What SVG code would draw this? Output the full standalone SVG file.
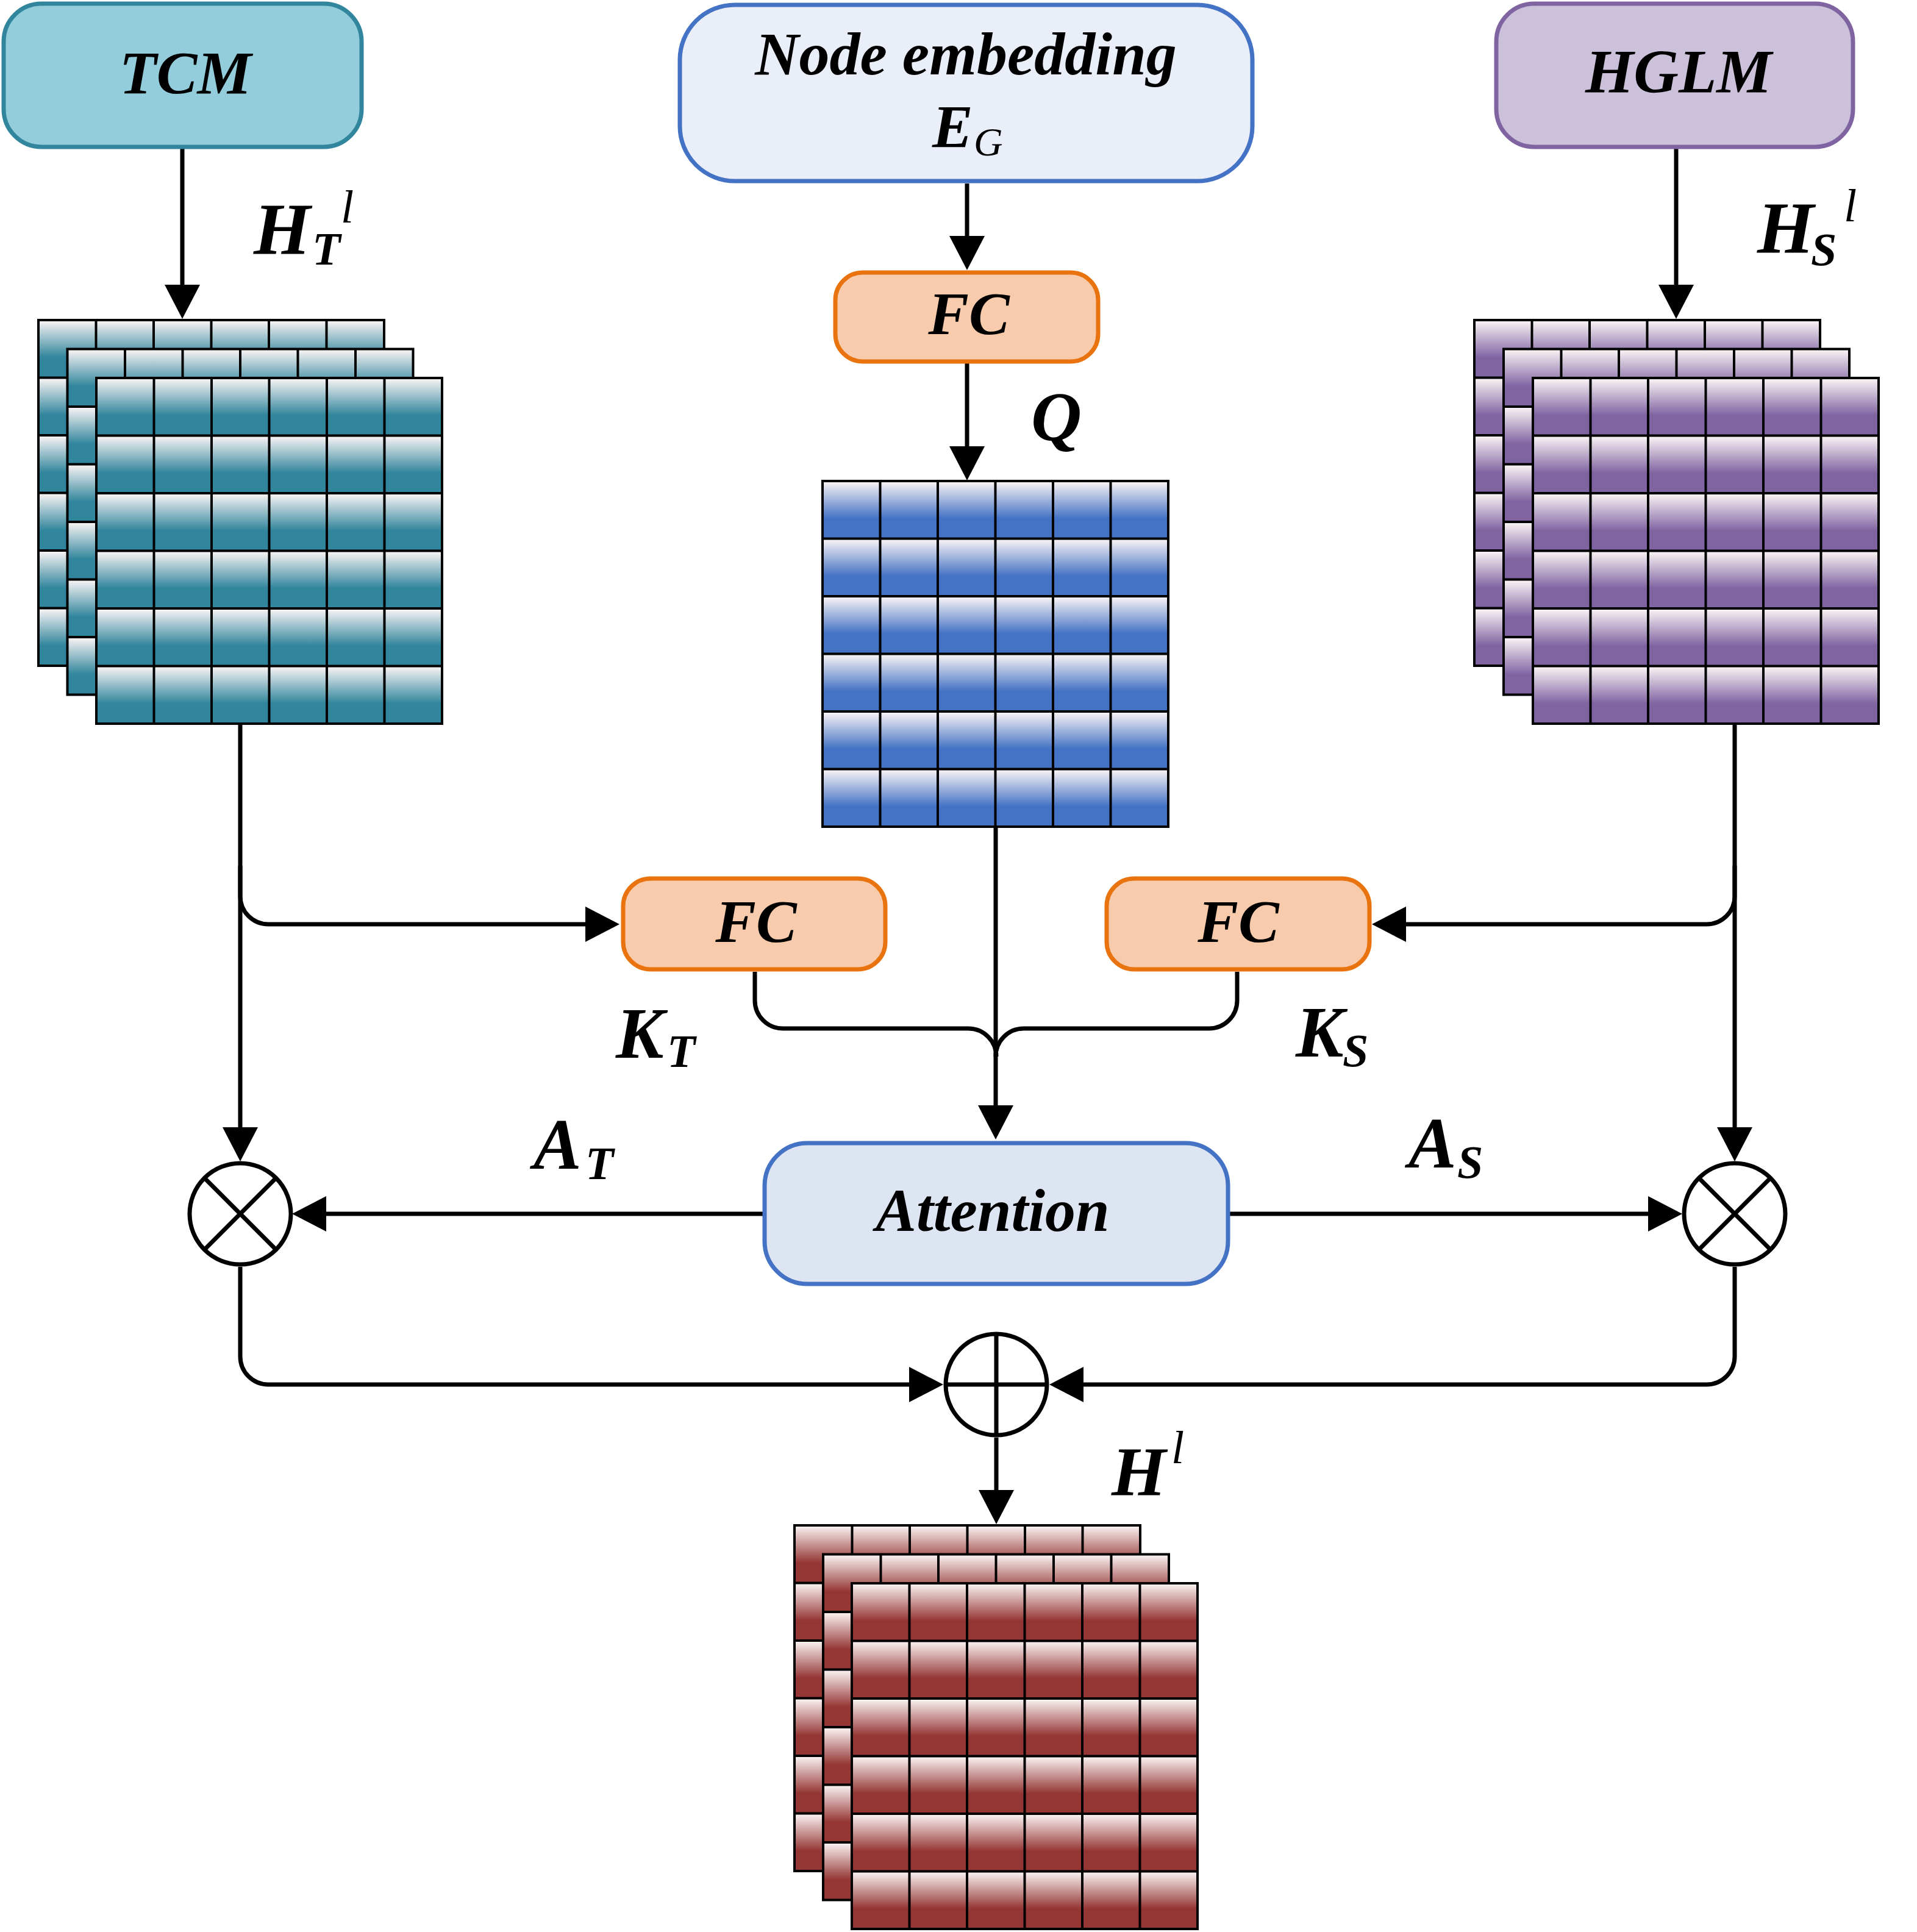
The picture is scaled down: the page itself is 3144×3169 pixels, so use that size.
<svg xmlns="http://www.w3.org/2000/svg" xmlns:xlink="http://www.w3.org/1999/xlink" width="3144" height="3169" viewBox="0 0 3144 3169">
<style>
.box{stroke-width:7}
.lbl{font-family:"Liberation Serif","Times New Roman",serif;font-style:italic;font-weight:bold;fill:#000}
.thin{font-weight:normal}
.con{fill:none;stroke:#000;stroke-width:7;marker-end:url(#arr)}
.plain{fill:none;stroke:#000;stroke-width:7}
.op{fill:#fff;stroke:#000;stroke-width:7}
</style>
<defs>
<marker id="arr" viewBox="0 0 56 58" refX="6" refY="29" markerWidth="56" markerHeight="58" markerUnits="userSpaceOnUse" orient="auto">
<path d="M0,0 L56,29 L0,58 Z" fill="#000"/>
</marker>
<linearGradient id="gT" x1="0" y1="0" x2="0" y2="1"><stop offset="0" stop-color="#FCF6F6"/><stop offset="0.65" stop-color="#31859C"/><stop offset="1" stop-color="#31859C"/></linearGradient>
<linearGradient id="gS" x1="0" y1="0" x2="0" y2="1"><stop offset="0" stop-color="#FCF6F6"/><stop offset="0.65" stop-color="#8064A2"/><stop offset="1" stop-color="#8064A2"/></linearGradient>
<linearGradient id="gQ" x1="0" y1="0" x2="0" y2="1"><stop offset="0" stop-color="#FCF6F6"/><stop offset="0.65" stop-color="#4472C4"/><stop offset="1" stop-color="#4472C4"/></linearGradient>
<linearGradient id="gH" x1="0" y1="0" x2="0" y2="1"><stop offset="0" stop-color="#FCF6F6"/><stop offset="0.65" stop-color="#943634"/><stop offset="1" stop-color="#943634"/></linearGradient>
<path id="glines" d="M0,0H567V567H0Z M94.5,0V567 M189,0V567 M283.5,0V567 M378,0V567 M472.5,0V567 M0,94.5H567 M0,189H567 M0,283.5H567 M0,378H567 M0,472.5H567" fill="none" stroke="#000" stroke-width="4" stroke-linejoin="miter"/>
<rect id="cT" width="94.5" height="94.5" fill="url(#gT)"/>
<rect id="cS" width="94.5" height="94.5" fill="url(#gS)"/>
<rect id="cQ" width="94.5" height="94.5" fill="url(#gQ)"/>
<rect id="cH" width="94.5" height="94.5" fill="url(#gH)"/>
<g id="rT"><use xlink:href="#cT"/><use xlink:href="#cT" x="94.5"/><use xlink:href="#cT" x="189"/><use xlink:href="#cT" x="283.5"/><use xlink:href="#cT" x="378"/><use xlink:href="#cT" x="472.5"/></g>
<g id="rS"><use xlink:href="#cS"/><use xlink:href="#cS" x="94.5"/><use xlink:href="#cS" x="189"/><use xlink:href="#cS" x="283.5"/><use xlink:href="#cS" x="378"/><use xlink:href="#cS" x="472.5"/></g>
<g id="rQ"><use xlink:href="#cQ"/><use xlink:href="#cQ" x="94.5"/><use xlink:href="#cQ" x="189"/><use xlink:href="#cQ" x="283.5"/><use xlink:href="#cQ" x="378"/><use xlink:href="#cQ" x="472.5"/></g>
<g id="rH"><use xlink:href="#cH"/><use xlink:href="#cH" x="94.5"/><use xlink:href="#cH" x="189"/><use xlink:href="#cH" x="283.5"/><use xlink:href="#cH" x="378"/><use xlink:href="#cH" x="472.5"/></g>
<g id="mT"><use xlink:href="#rT"/><use xlink:href="#rT" y="94.5"/><use xlink:href="#rT" y="189"/><use xlink:href="#rT" y="283.5"/><use xlink:href="#rT" y="378"/><use xlink:href="#rT" y="472.5"/><use xlink:href="#glines"/></g>
<g id="mS"><use xlink:href="#rS"/><use xlink:href="#rS" y="94.5"/><use xlink:href="#rS" y="189"/><use xlink:href="#rS" y="283.5"/><use xlink:href="#rS" y="378"/><use xlink:href="#rS" y="472.5"/><use xlink:href="#glines"/></g>
<g id="mQ"><use xlink:href="#rQ"/><use xlink:href="#rQ" y="94.5"/><use xlink:href="#rQ" y="189"/><use xlink:href="#rQ" y="283.5"/><use xlink:href="#rQ" y="378"/><use xlink:href="#rQ" y="472.5"/><use xlink:href="#glines"/></g>
<g id="mH"><use xlink:href="#rH"/><use xlink:href="#rH" y="94.5"/><use xlink:href="#rH" y="189"/><use xlink:href="#rH" y="283.5"/><use xlink:href="#rH" y="378"/><use xlink:href="#rH" y="472.5"/><use xlink:href="#glines"/></g>
</defs>
<rect width="3144" height="3169" fill="#fff"/>

<g id="connectors">
<path class="con" d="M299,244 V473"/>
<path class="con" d="M1586,301 V393"/>
<path class="con" d="M1586,596 V738"/>
<path class="con" d="M2749,243 V473"/>
<path class="con" d="M394,1187 V1855"/>
<path class="con" d="M394,1420 V1470 A46,46 0 0 0 440,1516 H966"/>
<path class="con" d="M2845,1187 V1855"/>
<path class="con" d="M2845,1420 V1470 A46,46 0 0 1 2799,1516 H2300"/>
<path class="con" d="M1633,1356 V1819"/>
<path class="plain" d="M1238,1594 V1641 A46,46 0 0 0 1284,1687 H1588 A46,46 0 0 1 1634,1733"/>
<path class="plain" d="M2029,1594 V1641 A46,46 0 0 1 1983,1687 H1679 A46,46 0 0 0 1633,1733"/>
<path class="con" d="M1254,1991 H529"/>
<path class="con" d="M2014,1991 H2709"/>
<path class="con" d="M394,2078 V2225 A46,46 0 0 0 440,2271 H1497"/>
<path class="con" d="M2845,2078 V2225 A46,46 0 0 1 2799,2271 H1771"/>
<path class="con" d="M1634,2358 V2450"/>
</g>

<g id="tcm">
<rect class="box" x="6" y="6" width="587" height="235" rx="62" fill="#93CDDC" stroke="#31859C"/>
<text class="lbl" x="304" y="153" font-size="100" text-anchor="middle">TCM</text>
</g>
<g id="node-embedding">
<rect class="box" x="1115" y="8" width="939" height="289" rx="90" fill="#E9EEF9" stroke="#4472C4"/>
<text class="lbl" x="1584" y="122" font-size="100" text-anchor="middle">Node embedding</text>
<text class="lbl" font-size="100"><tspan x="1529" y="241">E</tspan><tspan class="thin" x="1597" y="255" font-size="66">G</tspan></text>
</g>
<g id="hglm">
<rect class="box" x="2454" y="6" width="585" height="235" rx="62" fill="#CCC1DA" stroke="#8064A2"/>
<text class="lbl" x="2753" y="152" font-size="102" text-anchor="middle">HGLM</text>
</g>
<g id="fc-q">
<rect class="box" x="1370" y="447" width="431" height="146" rx="45" fill="#F8CBAD" stroke="#E9730F"/>
<text class="lbl" x="1589" y="548" font-size="100" text-anchor="middle">FC</text>
</g>
<g id="fc-kt">
<rect class="box" x="1022" y="1441" width="430" height="149" rx="45" fill="#F8CBAD" stroke="#E9730F"/>
<text class="lbl" x="1240" y="1545" font-size="100" text-anchor="middle">FC</text>
</g>
<g id="fc-ks">
<rect class="box" x="1815" y="1441" width="431" height="149" rx="45" fill="#F8CBAD" stroke="#E9730F"/>
<text class="lbl" x="2031" y="1545" font-size="100" text-anchor="middle">FC</text>
</g>
<g id="attention">
<rect class="box" x="1254" y="1875" width="760" height="231" rx="70" fill="#DEE5F2" stroke="#4472C4"/>
<text class="lbl" x="1628" y="2019" font-size="100" text-anchor="middle">Attention</text>
</g>

<g id="ht-stack">
<use xlink:href="#mT" x="63" y="525"/>
<use xlink:href="#mT" x="110.5" y="572.5"/>
<use xlink:href="#mT" x="158" y="620"/>
</g>
<g id="hs-stack">
<use xlink:href="#mS" x="2418" y="525"/>
<use xlink:href="#mS" x="2466" y="572.5"/>
<use xlink:href="#mS" x="2514" y="620"/>
</g>
<g id="q-matrix">
<use xlink:href="#mQ" x="1349" y="789"/>
</g>
<g id="h-stack">
<use xlink:href="#mH" x="1303" y="2502"/>
<use xlink:href="#mH" x="1350" y="2549.5"/>
<use xlink:href="#mH" x="1397" y="2597"/>
</g>

<g id="mul-t">
<circle class="op" cx="394" cy="1991" r="83"/>
<path class="plain" d="M335.3,1932.3 L452.7,2049.7 M452.7,1932.3 L335.3,2049.7"/>
</g>
<g id="mul-s">
<circle class="op" cx="2845" cy="1991" r="83"/>
<path class="plain" d="M2786.3,1932.3 L2903.7,2049.7 M2903.7,1932.3 L2786.3,2049.7"/>
</g>
<g id="add">
<circle class="op" cx="1634" cy="2271" r="83"/>
<path class="plain" d="M1551,2271 H1717 M1634,2188 V2354"/>
</g>

<g id="labels">
<text class="lbl" font-size="120"><tspan x="416" y="417">H</tspan><tspan x="512" y="434" font-size="76">T</tspan><tspan class="thin" x="559" y="365" font-size="76">l</tspan></text>
<text class="lbl" font-size="120"><tspan x="2882" y="415">H</tspan><tspan x="2970" y="435" font-size="76">S</tspan><tspan class="thin" x="3024" y="363" font-size="76">l</tspan></text>
<text class="lbl" x="1691" y="722" font-size="115">Q</text>
<text class="lbl" font-size="118"><tspan x="1010" y="1735">K</tspan><tspan x="1094" y="1750" font-size="76">T</tspan></text>
<text class="lbl" font-size="118"><tspan x="2125" y="1733">K</tspan><tspan x="2202" y="1749" font-size="76">S</tspan></text>
<text class="lbl" font-size="118"><tspan x="875" y="1917">A</tspan><tspan x="960" y="1934" font-size="76">T</tspan></text>
<text class="lbl" font-size="118"><tspan x="2310" y="1915">A</tspan><tspan x="2390" y="1932" font-size="76">S</tspan></text>
<text class="lbl" font-size="115"><tspan x="1823" y="2453">H</tspan><tspan class="thin" x="1921" y="2400" font-size="76">l</tspan></text>
</g>
</svg>
